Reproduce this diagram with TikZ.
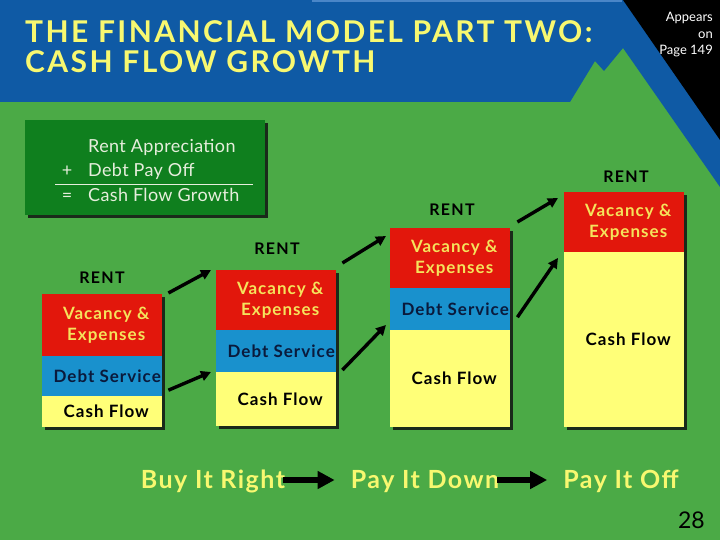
\documentclass[tikz,border=0pt]{standalone}
\usepackage{fontspec}
\setmainfont{Lato}
\usetikzlibrary{arrows.meta}
\definecolor{bggreen}{HTML}{4BAA46}
\definecolor{hdrblue}{HTML}{0F5AA5}
\definecolor{lightblue}{HTML}{4A86C8}
\definecolor{titleyellow}{HTML}{F8F870}
\definecolor{sumgreen}{HTML}{0F7F1E}
\definecolor{sumtext}{HTML}{E6EEDC}
\definecolor{cred}{HTML}{E2170C}
\definecolor{cblue}{HTML}{1991CD}
\definecolor{cyel}{HTML}{FFFF78}
\definecolor{redtext}{HTML}{F5E35C}
\definecolor{bluetext}{HTML}{0A1A3C}
\definecolor{shadowc}{HTML}{1A2A1A}
\tikzset{
  seg/.style={rectangle, inner sep=0pt, minimum width=120pt, anchor=north west, draw=none},
  segtxt/.style={inner sep=0pt, align=center, font=\bfseries\fontsize{17}{20.5}\selectfont\addfontfeatures{LetterSpace=6}},
  rent/.style={inner sep=0pt, text=black, font=\bfseries\fontsize{16}{19}\selectfont\addfontfeatures{LetterSpace=8}},
  diagarrow/.style={line width=3.4pt, -{Triangle[length=10pt,width=10pt]}},
  bigarrow/.style={line width=6pt, -{Triangle[length=17pt,width=17pt]}},
  sumtxt/.style={inner sep=0pt, anchor=base west, text=sumtext, font=\fontsize{18}{20}\selectfont\addfontfeatures{LetterSpace=2}},
  bottomtxt/.style={inner sep=0pt, anchor=base, text=titleyellow, font=\bfseries\fontsize{25}{30}\selectfont\addfontfeatures{LetterSpace=6}},
  titletxt/.style={inner sep=0pt, anchor=base west, text=titleyellow, font=\bfseries\fontsize{30}{32}\selectfont\addfontfeatures{LetterSpace=8}},
}
\begin{document}
\begin{tikzpicture}[x=1pt,y=-1pt]
\useasboundingbox (0,0) rectangle (720,540);
% background
\fill[bggreen] (0,0) rectangle (720,540);
\fill[hdrblue] (0,0) -- (720,0) -- (720,187) -- (623,48) -- (604,71) -- (595,61) -- (570,102) -- (0,102) -- cycle;
\fill[black] (623,0) -- (720,0) -- (720,140) -- cycle;
\fill[lightblue] (312,0) rectangle (622,2);
% title
\node[titletxt] (title1) at (25,43) {THE FINANCIAL MODEL PART TWO:};
\node[titletxt] (title2) at (25,73) {CASH FLOW GROWTH};
% appears on page
\node[inner sep=0pt, anchor=north east, align=right, text=white, font=\fontsize{13}{16.5}\selectfont] (appears) at (713,12) {Appears\\on\\Page 149};
% summary box
\fill[shadowc] (28,123) rectangle (268,218);
\node[rectangle, inner sep=0pt, fill=sumgreen, minimum width=240pt, minimum height=95pt, anchor=north west] (sum) at (25,120) {};
\node[sumtxt] (s1) at (88,153) {Rent Appreciation};
\node[sumtxt] (s2) at (88,177) {Debt Pay Off};
\node[sumtxt] (s3) at (88,201.5) {Cash Flow Growth};
\node[sumtxt, anchor=base] (plus) at (67,177) {+};
\node[sumtxt, anchor=base] (eq) at (67,201.5) {=};
\draw[sumtext, line width=0.9pt] (55,184) -- (253,184);
% column shadows
\fill[shadowc] (45,297) rectangle (165,430);
\fill[shadowc] (219,273) rectangle (339,429);
\fill[shadowc] (393,231) rectangle (513,430);
\fill[shadowc] (567,195) rectangle (687,430);
% column 1
\node[seg, fill=cred, minimum height=62pt] (c1v) at (42,294) {};
\node[seg, fill=cblue, minimum height=40pt] (c1d) at (42,356) {};
\node[seg, fill=cyel, minimum height=31pt] (c1c) at (42,396) {};
% column 2
\node[seg, fill=cred, minimum height=60pt] (c2v) at (216,270) {};
\node[seg, fill=cblue, minimum height=42pt] (c2d) at (216,330) {};
\node[seg, fill=cyel, minimum height=54pt] (c2c) at (216,372) {};
% column 3
\node[seg, fill=cred, minimum height=60pt] (c3v) at (390,228) {};
\node[seg, fill=cblue, minimum height=42pt] (c3d) at (390,288) {};
\node[seg, fill=cyel, minimum height=97pt] (c3c) at (390,330) {};
% column 4
\node[seg, fill=cred, minimum height=60pt] (c4v) at (564,192) {};
\node[seg, fill=cyel, minimum height=175pt] (c4c) at (564,252) {};
% segment texts
\foreach \c in {1,2,3,4} {
  \node[segtxt, text=redtext] (c\c vt) at ([xshift=4pt]c\c v.center) {Vacancy \&\\Expenses};
  \node[segtxt, text=black] (c\c ct) at ([xshift=4pt]c\c c.center) {Cash Flow};
}
\foreach \c in {1,2,3} {
  \node[segtxt, text=bluetext] (c\c dt) at ([xshift=5pt]c\c d.center) {Debt Service};
}
% RENT labels
\node[rent] (r1) at (102,278) {RENT};
\node[rent] (r2) at (277,249) {RENT};
\node[rent] (r3) at (452,210) {RENT};
\node[rent] (r4) at (626,177) {RENT};
% diagonal arrows
\draw[diagarrow] ([shift={(6,-1)}]c1v.north east) -- ([shift={(-5,0)}]c2v.north west);
\draw[diagarrow] ([shift={(6,14)}]c1d.east) -- ([shift={(-5,0)}]c2c.north west);
\draw[diagarrow] ([shift={(6,-7)}]c2v.north east) -- ([shift={(-4,8)}]c3v.north west);
\draw[diagarrow] ([shift={(6,-2)}]c2c.north east) -- ([shift={(-4,-5)}]c3c.north west);
\draw[diagarrow] ([shift={(7,-6)}]c3v.north east) -- ([shift={(-6,6)}]c4v.north west);
\draw[diagarrow] ([shift={(7,8)}]c3d.east) -- ([shift={(-6,6)}]c4c.north west);
% bottom line
\node[bottomtxt] (buy) at (213,488) {Buy It Right};
\node[bottomtxt] (down) at (425,488) {Pay It Down};
\node[bottomtxt] (off) at (621,488) {Pay It Off};
\draw[bigarrow] ([shift={(-2,-8)}]buy.base east) -- ([shift={(-16,-8)}]down.base west);
\draw[bigarrow] ([shift={(-2,-8)}]down.base east) -- ([shift={(-16,-8)}]off.base west);
% page number
\node[inner sep=0pt, anchor=base east, text=black, font=\fontsize{23}{26}\selectfont] (pnum) at (705,528) {28};
\end{tikzpicture}
\end{document}
